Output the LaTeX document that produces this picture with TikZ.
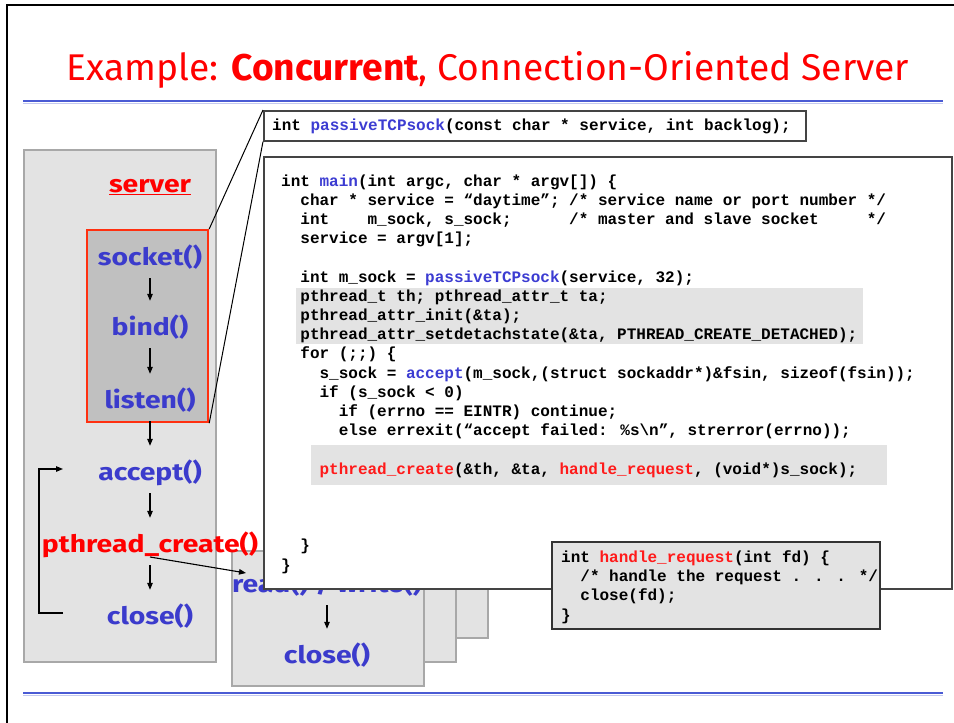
\documentclass[tikz,border=0pt]{standalone}
\usepackage{fontspec}
\setmainfont{Fira Sans}
\newfontfamily\lblfam[FakeStretch=1.18]{Fira Sans}
\newfontfamily\codefont{Liberation Mono}
\usetikzlibrary{arrows.meta}
\definecolor{lblue}{HTML}{3B3BCC}
\definecolor{cblue}{HTML}{3C3CD2}
\definecolor{cred}{HTML}{FF1A1A}
\definecolor{boxgray}{HTML}{E3E3E3}
\definecolor{boxedge}{HTML}{A8A8A8}
\definecolor{redfill}{HTML}{C0C0C0}
\definecolor{rededge}{HTML}{FF3010}
\definecolor{rulec}{HTML}{4A5BD4}
\definecolor{rulelt}{HTML}{C4C9F0}
\definecolor{codeedge}{HTML}{444444}
\newcommand{\cb}[1]{\textcolor{cblue}{#1}}
\newcommand{\crd}[1]{\textcolor{cred}{#1}}
\newcommand{\lblfont}{\lblfam\fontsize{24}{28}\selectfont\bfseries}
\begin{document}
\begin{tikzpicture}[x=1pt,y=-1pt,
  lbl/.style={font=\lblfont, text=lblue, inner sep=0pt, text height=34pt, text depth=13pt, anchor=base},
  arr/.style={-{Triangle[length=7pt,width=5.5pt]}, line width=1.1pt, black},
  code/.style={font=\codefont\bfseries\fontsize{16}{19.2}\selectfont, inner sep=0pt, anchor=base west, text=black},
  graybox/.style={draw=boxedge, fill=boxgray, line width=1.5pt, inner sep=0pt, anchor=north west},
  hilite/.style={fill=boxgray, draw=none, inner sep=0pt, anchor=north west}
]
\useasboundingbox (0,0) rectangle (954,723);
\fill[white] (0,0) rectangle (954,723);
% frame
\draw[line width=2pt] (7,724) -- (7,5) -- (955,5);
% title
\node[anchor=base, text=red, font=\fontsize{37.2}{41}\selectfont] (title) at (488,80) {Example: \textbf{Concurrent}, Connection-Oriented Server};
% rules
\draw[rulelt, line width=1pt] (23,103) -- (943,103);
\draw[rulec, line width=2pt] (23,101) -- (943,101);
\draw[rulelt, line width=1pt] (23,695) -- (943,695);
\draw[rulec, line width=2pt] (23,693) -- (943,693);
% server box
\node[graybox, minimum width=192pt, minimum height=512pt] (srvbox) at (23,149) {};
\node[anchor=base, font=\lblfont, text=red] (srv) at (150,192) {\underline{server}};
\node[draw=rededge, fill=redfill, line width=2.2pt, inner sep=0pt, minimum width=121pt, minimum height=192pt, anchor=north west] (redbox) at (86,229) {};
% stacked thread boxes
\node[graybox, minimum width=192pt, minimum height=135pt] (tb3) at (295,502) {};
\node[graybox, minimum width=192pt, minimum height=135pt] (tb2) at (263,526) {};
\node[graybox, minimum width=192pt, minimum height=135pt] (tb1) at (231,550) {};
\node[lbl] (rw) at (327,592) {read() / write()};
\node[lbl] (close2) at (327,663) {close()};
\draw[arr] (rw) -- (close2);
% server labels
\node[lbl] (socket) at (150,265) {socket()};
\node[lbl] (bind) at (150,335) {bind()};
\node[lbl] (listen) at (150,408) {listen()};
\node[lbl] (accept) at (150,480) {accept()};
\node[lbl, text=red] (pcreate) at (150,552) {pthread\_create()};
\node[lbl] (close1) at (150,624) {close()};
\draw[arr] (socket) -- (bind);
\draw[arr] (bind) -- (listen);
\draw[arr] (listen) -- (accept);
\draw[arr] (accept) -- (pcreate);
\draw[arr] (pcreate) -- (close1);
% loop back
\coordinate (lpA) at (63,613);
\coordinate (lpB) at (63,469);
\draw[arr, line width=1.2pt] (lpA) -- ++(-24,0) |- (lpB);
% spawn arrow
\coordinate (ptS) at (150,557);
\coordinate (rwE) at (246,573);
\draw[arr] (ptS) -- (rwE);
% main code box
\node[draw=codeedge, fill=white, line width=1.6pt, inner sep=0pt, minimum width=688pt, minimum height=432pt, anchor=north west] (mainbox) at (263,156) {};
\node[hilite, minimum width=567pt, minimum height=56pt] (hl1) at (296,288) {};
\node[hilite, minimum width=576pt, minimum height=40pt] (hl2) at (311,445) {};
\node[code] (c0) at (281,186) {int \cb{main}(int argc, char * argv[]) \{};
\node[code] (c1) at (281,205.2) {~~char * service = “daytime”; /* service name or port number */};
\node[code] (c2) at (281,224.4) {~~int~~~~m\_sock, s\_sock;~~~~~~/* master and slave socket~~~~~*/};
\node[code] (c3) at (281,243.6) {~~service = argv[1];};
\node[code] (c5) at (281,282) {~~int m\_sock = \cb{passiveTCPsock}(service, 32);};
\node[code] (c6) at (281,301.2) {~~pthread\_t th; pthread\_attr\_t ta;};
\node[code] (c7) at (281,320.4) {~~pthread\_attr\_init(\&ta);};
\node[code] (c8) at (281,339.6) {~~pthread\_attr\_setdetachstate(\&ta, PTHREAD\_CREATE\_DETACHED);};
\node[code] (c9) at (281,358.8) {~~for (;;) \{};
\node[code] (c10) at (281,378) {~~~~s\_sock = \cb{accept}(m\_sock,(struct sockaddr*)\&fsin, sizeof(fsin));};
\node[code] (c11) at (281,397.2) {~~~~if (s\_sock < 0)};
\node[code] (c12) at (281,416.4) {~~~~~~if (errno == EINTR) continue;};
\node[code] (c13) at (281,435.6) {~~~~~~else errexit(“accept failed: \%s\textbackslash n”, strerror(errno));};
\node[code] (c15) at (281,474) {~~~~\crd{pthread\_create}(\&th, \&ta, \crd{handle\_request}, (void*)s\_sock);};
\node[code] (c19) at (281,550.8) {~~\}};
\node[code] (c20) at (281,570) {\}};
% handle_request box
\node[draw=black!80, fill=boxgray, line width=2pt, inner sep=0pt, minimum width=328pt, minimum height=87pt, anchor=north west] (hbox) at (551,541) {};
\node[code] (h0) at (561,562) {int \crd{handle\_request}(int fd) \{};
\node[code] (h1) at (561,581.3) {~~/* handle the request . . . */};
\node[code] (h2) at (561,600.6) {~~close(fd);};
\node[code] (h3) at (561,620) {\}};
% signature box
\node[draw=codeedge, fill=white, line width=1.6pt, inner sep=0pt, minimum width=542pt, minimum height=30pt, anchor=north west] (sig) at (263,110) {};
\node[code] (sigtext) at (272,130) {int \cb{passiveTCPsock}(const char * service, int backlog);};
% zoom lines
\draw[line width=1pt] (redbox.north east) -- (sig.north west);
\draw[line width=1pt] (redbox.south east) -- (sig.south west);
\end{tikzpicture}
\end{document}
